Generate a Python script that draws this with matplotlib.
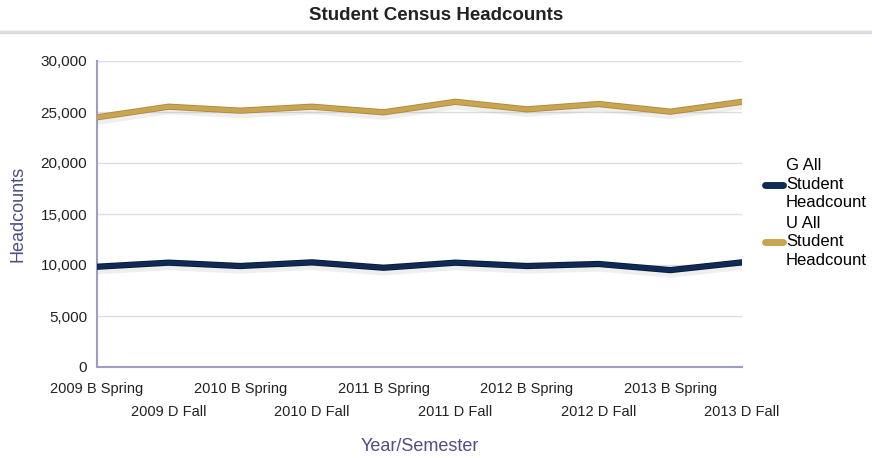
import matplotlib.pyplot as plt
import matplotlib.patheffects as pe
from matplotlib.lines import Line2D

semesters = ['2009 B Spring', '2009 D Fall', '2010 B Spring', '2010 D Fall',
             '2011 B Spring', '2011 D Fall', '2012 B Spring', '2012 D Fall',
             '2013 B Spring', '2013 D Fall']
g_headcount = [9830, 10230, 9900, 10260, 9730, 10230, 9900, 10100, 9500, 10260]
u_headcount = [24480, 25520, 25130, 25520, 24970, 26000, 25260, 25780, 25030, 26000]

plt.rcParams['font.family'] = ['Liberation Sans', 'DejaVu Sans']

navy = '#0f2b55'
gold = '#c9a552'
axis_col = '#9d9dc6'
label_col = '#4f4f85'

fig = plt.figure(figsize=(8.72, 4.58), dpi=100)
ax = fig.add_axes([97 / 872, 1 - 367 / 458, 645 / 872, 306 / 458])

x = list(range(len(semesters)))

def fx(edge):
    return [pe.SimpleLineShadow(offset=(0, -3), shadow_color='#999999', alpha=0.15, linewidth=5),
            pe.Stroke(linewidth=4.5, foreground=edge), pe.Normal()]

ax.plot(x, g_headcount, color=navy, lw=3.2, solid_capstyle='round', solid_joinstyle='round',
        path_effects=fx('#061a38'), zorder=3)
ax.plot(x, u_headcount, color=gold, lw=3.2, solid_capstyle='round', solid_joinstyle='round',
        path_effects=fx('#ad8b40'), zorder=3)

ax.set_xlim(0, len(semesters) - 1)
ax.set_ylim(0, 30000)
ax.set_yticks(range(0, 30001, 5000))
ax.set_yticklabels([f'{v:,}' for v in range(0, 30001, 5000)], fontsize=11, color='#222222')
ax.yaxis.grid(True, color='#dcdce4', lw=1)
ax.set_axisbelow(True)

# spring labels on first row, fall labels on second row
ax.set_xticks(x[0::2])
ax.set_xticklabels(semesters[0::2], fontsize=10.5, color='#222222')
ax.set_xticks(x[1::2], minor=True)
ax.set_xticklabels(semesters[1::2], minor=True, fontsize=10.5, color='#222222')
ax.tick_params(axis='both', which='both', length=0)
ax.tick_params(axis='y', pad=7)
ax.tick_params(axis='x', which='major', pad=11)
ax.tick_params(axis='x', which='minor', pad=27)

for side in ['top', 'right']:
    ax.spines[side].set_visible(False)
for side in ['left', 'bottom']:
    ax.spines[side].set_color(axis_col)
    ax.spines[side].set_linewidth(1.5)

ax.set_ylabel('Headcounts', fontsize=13, color=label_col, labelpad=10)
ax.set_xlabel('Year/Semester', fontsize=13, color=label_col, va='center')
ax.xaxis.set_label_coords(0.5, -0.261)

fig.text(0.5, 1 - 15 / 458, 'Student Census Headcounts', ha='center', va='center',
         fontsize=13.5, fontweight='bold', color='#222222')
fig.add_artist(Line2D([0, 1], [1 - 32 / 458, 1 - 32 / 458], color='#dcdce3', lw=2.5,
                      transform=fig.transFigure))

handles = [Line2D([], [], color=navy, lw=5, solid_capstyle='round'),
           Line2D([], [], color=gold, lw=5, solid_capstyle='round')]
leg = fig.legend(handles, ['G All\nStudent\nHeadcount', 'U All\nStudent\nHeadcount'],
                 loc='center left', bbox_to_anchor=(750 / 872, 1 - 213 / 458), frameon=False,
                 fontsize=12, handlelength=1.1, handletextpad=0.15, labelspacing=0.3)
for t in leg.get_texts():
    t.set_linespacing(1.3)

fig.savefig('out.png', dpi=100)
